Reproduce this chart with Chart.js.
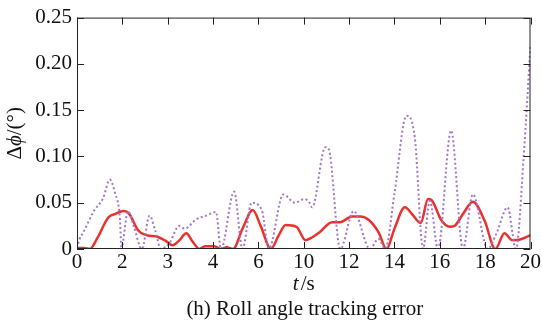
<!DOCTYPE html>
<html>
<head>
<meta charset="utf-8">
<script src="https://cdn.jsdelivr.net/npm/chart.js@4.4.0/dist/chart.umd.min.js"></script>
<style>
  html, body { margin: 0; padding: 0; background: #fff; }
</style>
</head>
<body>
<canvas id="mychart" width="542" height="326"></canvas>
<script>
// tick labels as printed on the original figure
const tickLabels = ['0', '2', '3', '4', '6', '10', '12', '14', '16', '18', '20'];

// red solid curve
const redTime = [0, 0.3, 0.57, 0.9, 1.38, 1.7, 2.04, 2.3, 2.7, 3.06, 3.57, 3.9, 4.22, 4.5, 4.82, 5.1, 5.4,
  5.65, 6.05, 6.35, 6.6, 6.88, 7.3, 7.75, 8.1, 8.55, 8.9, 9.2, 9.68, 10.08, 10.4, 10.7, 11.25, 11.6,
  12.12, 12.5, 12.88, 13.3, 13.65, 14.0, 14.46, 14.8, 15.16, 15.48, 15.63, 16.07, 16.43, 16.65,
  17.0, 17.46, 17.97, 18.45, 18.85, 19.2, 19.5, 20];
const redErr = [0.001, 0.001, 0, 0.012, 0.034, 0.038, 0.041, 0.038, 0.02, 0.015, 0.013, 0.009, 0.004, 0.009, 0.017, 0.008, 0,
  0.003, 0.003, 0, 0.002, 0, 0.022, 0.042, 0.025, 0, 0.015, 0.026, 0.024, 0.0095, 0.013, 0.018, 0.029, 0.029,
  0.035, 0.035, 0.031, 0.018, 0, 0.022, 0.045, 0.037, 0.028, 0.054, 0.053, 0.031, 0.024, 0.025,
  0.037, 0.051, 0.031, 0, 0.017, 0.0095, 0.01, 0.015];

// purple dotted curve
const dotTime = [0, 0.1, 0.28, 0.72, 1.15, 1.45, 1.67, 1.89, 1.96, 2.25, 2.5, 2.86, 3.2, 3.45, 3.7, 3.95, 4.07, 4.51,
  4.75, 5.25, 5.69, 6.13, 6.35, 6.93, 7.3, 7.7, 8.15, 8.46, 9.1, 9.6, 10.05, 10.25, 10.37, 10.95, 11.1, 11.61,
  12.2, 12.92, 13.29, 13.6, 14.0, 14.53, 14.9, 15.26, 15.56, 15.92, 16.5, 17.02, 17.46, 18.11, 18.5,
  18.99, 19.36, 19.7, 20];
const dotErr = [0.001, 0.01, 0.018, 0.04, 0.055, 0.075, 0.061, 0.034, 0.002, 0.041, 0.025, 0, 0.036, 0.02, 0, 0.003, 0.006, 0.025,
  0.022, 0.032, 0.036, 0.04, 0, 0.062, 0, 0.05, 0.042, 0, 0.059, 0.05, 0.054, 0.05, 0.045, 0.11, 0.108, 0,
  0.041, 0, 0.011, 0, 0.06, 0.144, 0.12, 0, 0.052, 0, 0.128, 0, 0.059, 0, 0.017,
  0.045, 0, 0.1, 0.22];

const serif = 'Liberation Serif';
const fontSize = 21;

const toPoints = (xs, ys) => xs.map((x, i) => ({ x: x, y: ys[i] }));

// frame, inward ticks and the axis titles with italic symbols
const framePlugin = {
  id: 'frame',
  afterDatasetsDraw(chart) {
    const ctx = chart.ctx;
    const a = chart.chartArea;
    const xs = chart.scales.x;
    const ys = chart.scales.y;
    ctx.save();
    ctx.strokeStyle = '#222';
    ctx.lineWidth = 1;
    ctx.strokeRect(a.left + 0.5, a.top + 0.5, a.right - a.left - 1, a.bottom - a.top - 1);
    ctx.beginPath();
    xs.ticks.forEach((t) => {
      const px = Math.round(xs.getPixelForValue(t.value)) + 0.5;
      ctx.moveTo(px, a.bottom); ctx.lineTo(px, a.bottom - 7);
      ctx.moveTo(px, a.top); ctx.lineTo(px, a.top + 7);
    });
    ys.ticks.forEach((t) => {
      const py = Math.round(ys.getPixelForValue(t.value)) + 0.5;
      ctx.moveTo(a.left, py); ctx.lineTo(a.left + 7, py);
      ctx.moveTo(a.right, py); ctx.lineTo(a.right - 7, py);
    });
    ctx.stroke();
    ctx.restore();
  },
  afterDraw(chart) {
    const ctx = chart.ctx;
    const a = chart.chartArea;
    const cx = (a.left + a.right) / 2;
    ctx.save();
    ctx.fillStyle = '#111';
    ctx.textBaseline = 'middle';
    ctx.textAlign = 'left';

    // x title: t/s
    const it = 'italic ' + fontSize + 'px ' + serif;
    const rm = fontSize + 'px ' + serif;
    ctx.font = it; const w1 = ctx.measureText('t').width;
    ctx.font = rm; const w2 = ctx.measureText('/s').width;
    let x0 = cx - (w1 + w2 + 2) / 2;
    ctx.font = it; ctx.fillText('t', x0, 284);
    ctx.font = rm; ctx.fillText('/s', x0 + w1 + 2, 284);

    // caption
    ctx.textAlign = 'center';
    ctx.fillText('(h) Roll angle tracking error', cx + 1, 309);

    // y title: Δϕ/(°)
    ctx.translate(15, (a.top + a.bottom) / 2);
    ctx.rotate(-Math.PI / 2);
    ctx.textAlign = 'left';
    const parts = [['Δ', rm], ['ϕ', it], ['/(°)', rm]];
    let total = 0;
    parts.forEach((p) => { ctx.font = p[1]; total += ctx.measureText(p[0]).width; });
    let x = -total / 2;
    parts.forEach((p) => { ctx.font = p[1]; ctx.fillText(p[0], x, 0); x += ctx.measureText(p[0]).width; });
    ctx.restore();
  }
};

new Chart(document.getElementById('mychart').getContext('2d'), {
  type: 'line',
  data: {
    datasets: [
      {
        label: 'dotted',
        data: toPoints(dotTime, dotErr),
        borderColor: 'rgb(165, 115, 200)',
        borderWidth: 2,
        borderDash: [2, 2.5],
        pointRadius: 0,
        cubicInterpolationMode: 'monotone',
        fill: false
      },
      {
        label: 'solid',
        data: toPoints(redTime, redErr),
        borderColor: 'rgb(232, 50, 46)',
        borderWidth: 2.5,
        pointRadius: 0,
        cubicInterpolationMode: 'monotone',
        fill: false
      }
    ]
  },
  options: {
    responsive: false,
    animation: false,
    layout: { padding: { top: 13, right: 9, left: 0, bottom: 0 } },
    plugins: { legend: { display: false }, tooltip: { enabled: false } },
    scales: {
      x: {
        type: 'linear',
        min: 0,
        max: 20,
        afterFit: (s) => { s.height = 77; },
        grid: { display: false, drawTicks: false },
        border: { display: false },
        ticks: {
          stepSize: 2,
          autoSkip: false,
          maxRotation: 0,
          padding: 1,
          color: '#111',
          font: { family: serif, size: fontSize },
          callback: (v, i) => tickLabels[i]
        }
      },
      y: {
        min: 0,
        max: 0.25,
        afterFit: (s) => { s.width = 77; },
        grid: { display: false, drawTicks: false },
        border: { display: false },
        ticks: {
          stepSize: 0.05,
          padding: 5,
          color: '#111',
          font: { family: serif, size: fontSize },
          callback: (v) => (v === 0 ? '0' : v.toFixed(2))
        }
      }
    }
  },
  plugins: [framePlugin]
});
</script>
</body>
</html>
